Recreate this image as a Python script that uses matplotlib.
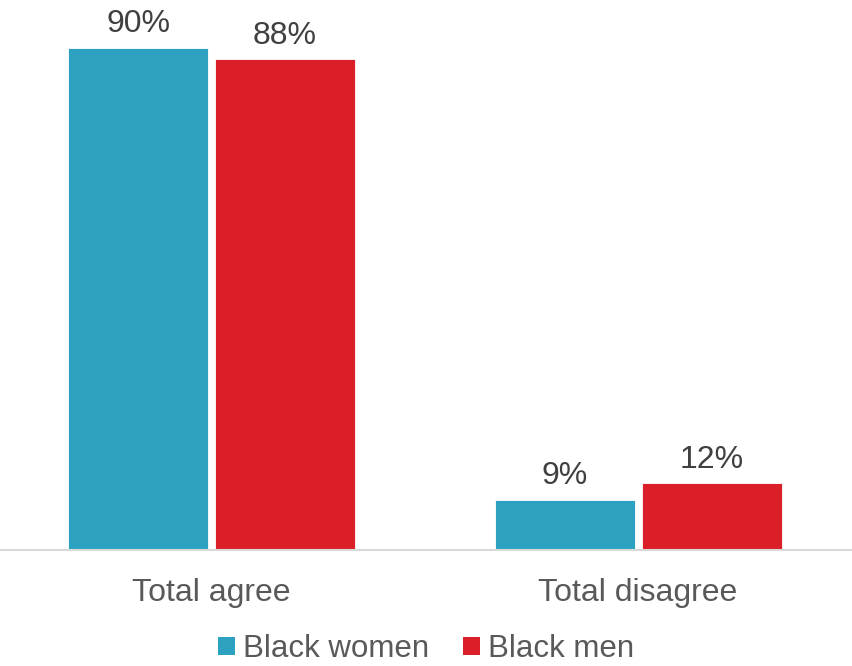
import matplotlib
matplotlib.use("Agg")
import matplotlib.pyplot as plt
from matplotlib.patches import Patch

plt.rcParams['font.family'] = ['Liberation Sans', 'DejaVu Sans']

categories = ["Total agree", "Total disagree"]
series_names = ["Black women", "Black men"]
women = [90, 9]
men = [88, 12]
colors = ["#2CA2C0", "#DA1F28"]

fig = plt.figure(figsize=(8.52, 6.66), dpi=100)
ax = fig.add_axes([0, 1 - 550 / 666, 1, 550 / 666])

x = list(range(len(categories)))
w = 140 / 426.5
off = 147 / 2 / 426.5
b1 = ax.bar([i - off for i in x], women, width=w, color=colors[0], edgecolor="white", linewidth=0.6)
b2 = ax.bar([i + off for i in x], men, width=w, color=colors[1], edgecolor="white", linewidth=0.6)

for bars, vals in ((b1, women), (b2, men)):
    for bar, v in zip(bars, vals):
        ax.annotate(f"{v}%", (bar.get_x() + bar.get_width() / 2, v),
                    xytext=(0, 6), textcoords="offset points",
                    ha="center", va="bottom", fontsize=23, color="#404040")

ax.set_xlim(-211.5 / 426.5, (852 - 211.5) / 426.5)
ax.set_ylim(0, 550 / 5.58)
ax.set_xticks(x)
ax.set_xticklabels(categories, fontsize=23, color="#595959")
ax.tick_params(axis="x", length=0, pad=20)
ax.set_yticks([])
for s in ("top", "right", "left"):
    ax.spines[s].set_visible(False)
ax.spines["bottom"].set_color("#D9D9D9")
ax.spines["bottom"].set_linewidth(1.5)

handles = [Patch(facecolor=c, label=n) for c, n in zip(colors, series_names)]
fig.legend(handles=handles, loc="center", bbox_to_anchor=(0.5, 1 - 649 / 666),
           ncol=2, frameon=False, fontsize=22.5, labelcolor="#595959",
           handlelength=0.55, handleheight=0.55, handletextpad=0.25, columnspacing=1.1,
           borderpad=0, borderaxespad=0)

fig.savefig("out.png", dpi=100)
